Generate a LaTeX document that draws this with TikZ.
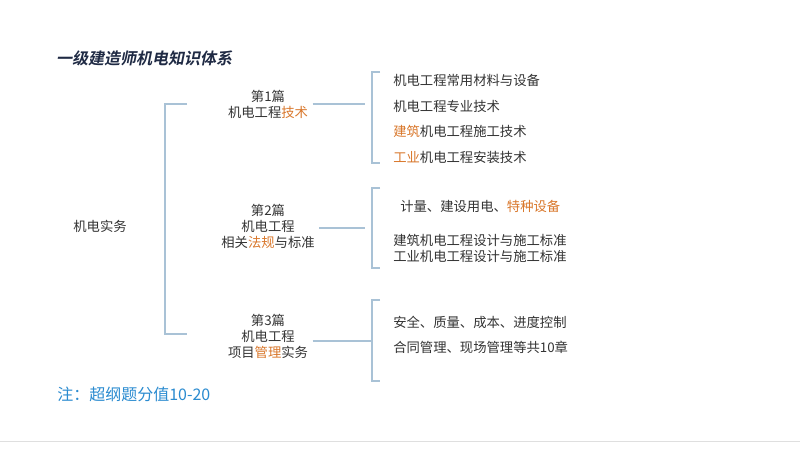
\documentclass[tikz,border=0pt]{standalone}
\usepackage{fontspec}
\setmainfont{Noto Sans CJK SC}
\newfontfamily\cjkb{Noto Sans CJK SC Bold}
\definecolor{ln}{HTML}{A9C2D6}
\definecolor{org}{HTML}{D9772B}
\definecolor{tx}{HTML}{333333}
\definecolor{nv}{HTML}{1F2A44}
\definecolor{nb}{HTML}{2A8BD0}
\tikzset{lnk/.style={draw=ln,line width=0.8pt},
 mid/.style={font=\fontsize{10pt}{12pt}\selectfont,text=tx,align=center,inner sep=1pt},
 itm/.style={font=\fontsize{10pt}{12pt}\selectfont,text=tx,anchor=west,inner sep=0pt}}
\begin{document}
\begin{tikzpicture}[x=0.75pt,y=-0.75pt]
\useasboundingbox (0,0) rectangle (800,450);
\fill[white] (0,0) rectangle (800,450);
\draw[gray!25] (0,441) -- (800,441);
\node[anchor=west,inner sep=0pt,text=nv,font=\cjkb\fontsize{12pt}{13pt}\selectfont,xslant=0.2] (title) at (57,58) {一级建造师机电知识体系};
\node[mid] (root) at (100,226) {机电实务};
\node[mid] (n1) at (268,104) {第1篇\\机电工程\textcolor{org}{技术}};
\node[mid] (n2) at (268,226) {第2篇\\机电工程\\相关\textcolor{org}{法规}与标准};
\node[mid] (n3) at (268,336) {第3篇\\机电工程\\项目\textcolor{org}{管理}实务};
\draw[lnk] (187,104) -- (165,104) -- (165,334) -- (187,334);
\coordinate (b1) at (365,104); \coordinate (b2) at (365,228); \coordinate (b3) at (372,341);
\draw[lnk] (n1.east |- b1) ++(3,0) -- (b1);
\draw[lnk] (n2.east |- b2) ++(3,0) -- (b2);
\draw[lnk] (n3.east |- b3) ++(3,0) -- (b3);
\draw[lnk] (380,72) -- (372,72) -- (372,163) -- (380,163);
\draw[lnk] (380,188) -- (372,188) -- (372,268) -- (380,268);
\draw[lnk] (380,300) -- (372,300) -- (372,381) -- (380,381);
\node[itm] (a1) at (393,80) {机电工程常用材料与设备};
\node[itm] (a2) at (393,106) {机电工程专业技术};
\node[itm] (a3) at (393,131) {\textcolor{org}{建筑}机电工程施工技术};
\node[itm] (a4) at (393,157) {\textcolor{org}{工业}机电工程安装技术};
\node[itm] (c1) at (400,206) {计量、建设用电、\textcolor{org}{特种设备}};
\node[itm] (c2) at (393,240) {建筑机电工程设计与施工标准};
\node[itm] (c3) at (393,256) {工业机电工程设计与施工标准};
\node[itm] (d1) at (393,322) {安全、质量、成本、进度控制};
\node[itm] (d2) at (393,347) {合同管理、现场管理等共10章};
\node[anchor=west,inner sep=0pt,text=nb,font=\fontsize{12pt}{13pt}\selectfont] (note) at (57,394) {注：超纲题分值10-20};
\end{tikzpicture}
\end{document}
